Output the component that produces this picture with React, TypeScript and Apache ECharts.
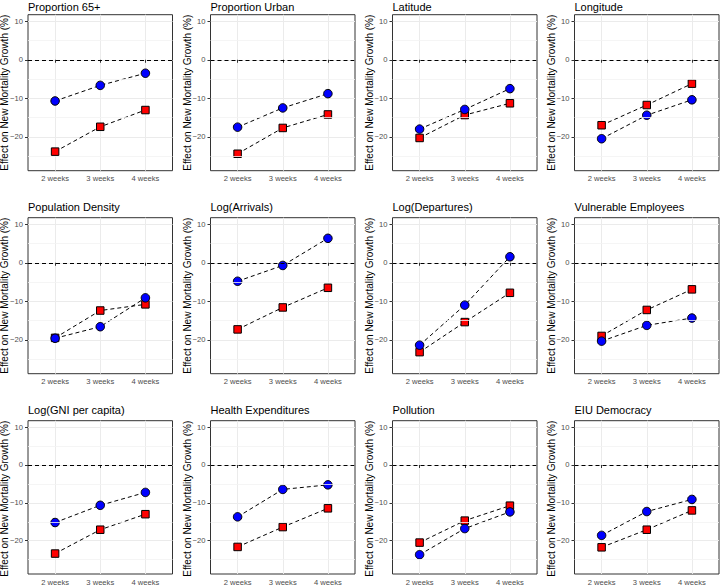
import React, { useEffect, useRef } from 'react';
import * as echarts from 'echarts';

const weekLabels = ['2 weeks', '3 weeks', '4 weeks'];
const weekPositions = [1, 2, 3];
const panelTitles = [
  'Proportion 65+', 'Proportion Urban', 'Latitude', 'Longitude',
  'Population Density', 'Log(Arrivals)', 'Log(Departures)', 'Vulnerable Employees',
  'Log(GNI per capita)', 'Health Expenditures', 'Pollution', 'EIU Democracy',
];
const circleValues = [
  [-10.7, -6.65, -3.5],
  [-17.5, -12.5, -8.8],
  [-18.0, -12.9, -7.5],
  [-20.5, -14.4, -10.4],
  [-19.6, -16.6, -9.1],
  [-4.8, -0.7, 6.35],
  [-21.4, -11.0, 1.55],
  [-20.35, -16.25, -14.35],
  [-15.2, -10.65, -7.25],
  [-13.7, -6.45, -5.25],
  [-23.7, -16.8, -12.4],
  [-18.6, -12.3, -9.1],
];
const squareValues = [
  [-23.85, -17.4, -13.05],
  [-24.4, -17.7, -14.2],
  [-20.3, -14.35, -11.3],
  [-17.0, -11.75, -6.2],
  [-19.5, -12.4, -10.8],
  [-17.3, -11.6, -6.5],
  [-23.2, -15.4, -7.8],
  [-19.0, -12.25, -6.9],
  [-23.4, -17.1, -13.0],
  [-21.65, -16.4, -11.45],
  [-20.5, -14.7, -10.75],
  [-21.75, -17.1, -12.0],
];
const yMajorTicks = [-20, -10, 0, 10];
const yMinorLines = [-25, -15, -5, 5];
const yTitle = 'Effect on New Mortality Growth (%)';

const Y_MIN = -28.8;
const Y_MAX = 11.7;
const X_MIN = 0.4;
const X_MAX = 3.6;

const colLefts = [28, 210.5, 392.5, 574.5];
const rowTops = [14.7, 217.7, 420.7];
const PW = 144.5;
const PH = 156;
const FONT = 'Liberation Sans, Arial, Helvetica, sans-serif';

export default function App() {
  const ref = useRef<HTMLDivElement>(null);
  useEffect(() => {
    if (!ref.current) return;
    const chart = echarts.init(ref.current, null, { renderer: 'svg' });
    const grid: any[] = [];
    const xAxis: any[] = [];
    const yAxis: any[] = [];
    const series: any[] = [];
    const graphic: any[] = [];
    panelTitles.forEach((title, i) => {
      const r = Math.floor(i / 4);
      const c = i % 4;
      const left = colLefts[c];
      const top = rowTops[r];
      grid.push({
        left, top, width: PW, height: PH,
        show: true, borderColor: '#333333', borderWidth: 1, backgroundColor: '#ffffff',
        containLabel: false,
      });
      xAxis.push({
        gridIndex: i, type: 'value', min: X_MIN, max: X_MAX,
        axisLine: { show: false },
        axisTick: { show: true, length: 3, customValues: weekPositions, lineStyle: { color: '#333333', width: 1 } },
        axisLabel: {
          show: true, customValues: weekPositions, margin: 4,
          formatter: (v: number) => weekLabels[Math.round(v) - 1] ?? '',
          color: '#4d4d4d', fontSize: 7.6, fontFamily: FONT,
        },
        splitLine: { show: true, lineStyle: { color: '#EBEBEB', width: 1 } },
      });
      yAxis.push({
        gridIndex: i, type: 'value', min: Y_MIN, max: Y_MAX,
        axisLine: { show: false },
        axisTick: { show: true, length: 3, customValues: yMajorTicks, lineStyle: { color: '#333333', width: 1 } },
        axisLabel: {
          show: true, customValues: yMajorTicks, margin: 5,
          formatter: (v: number) => (v < 0 ? '\u2212' + Math.abs(v) : String(v)),
          color: '#4d4d4d', fontSize: 7.6, fontFamily: FONT,
        },
        splitLine: { show: true, lineStyle: { color: '#EBEBEB', width: 1 } },
      });
      series.push({
        type: 'line', xAxisIndex: i, yAxisIndex: i, data: [], z: 1, silent: true,
        markLine: {
          silent: true, symbol: 'none', label: { show: false }, animation: false,
          data: [
            ...yMinorLines.map((v) => ({ yAxis: v, lineStyle: { color: '#F2F2F2', width: 0.8, type: 'solid' } })),
            { yAxis: 0, lineStyle: { color: '#000000', width: 1.2, type: [4, 3] } },
          ],
        },
      });
      const sq = squareValues[i].map((v, k) => [weekPositions[k], v]);
      const ci = circleValues[i].map((v, k) => [weekPositions[k], v]);
      [sq, ci].forEach((d) => {
        series.push({
          type: 'line', xAxisIndex: i, yAxisIndex: i, data: d, z: 2, silent: true,
          showSymbol: false, symbol: 'none',
          lineStyle: { color: '#000000', width: 1, type: [4, 3] },
        });
      });
      series.push({
        type: 'scatter', xAxisIndex: i, yAxisIndex: i, data: sq, z: 3,
        symbol: 'rect', symbolSize: 7.5,
        itemStyle: { color: '#FF0000', borderColor: '#000000', borderWidth: 1, opacity: 1 },
      });
      series.push({
        type: 'scatter', xAxisIndex: i, yAxisIndex: i, data: ci, z: 4,
        symbol: 'circle', symbolSize: 8.5,
        itemStyle: { color: '#0000FF', borderColor: '#000000', borderWidth: 1, opacity: 1 },
      });
      graphic.push({
        type: 'text', x: left, y: Math.max(top - 10.5, 6.5),
        style: { text: title, fontSize: 11, fontFamily: FONT, fill: '#000000', align: 'left', verticalAlign: 'middle' },
      });
      graphic.push({
        type: 'text', x: left - 23.5, y: top + PH / 2, rotation: Math.PI / 2,
        style: { text: yTitle, fontSize: 10, fontFamily: FONT, fill: '#000000', align: 'center', verticalAlign: 'middle' },
      });
    });
    chart.setOption({
      animation: false,
      backgroundColor: '#ffffff',
      grid, xAxis, yAxis, series, graphic,
    });
    return () => chart.dispose();
  }, []);
  return <div ref={ref} style={{ position: 'fixed', left: 0, top: 0, width: 720, height: 586 }} />;
}
